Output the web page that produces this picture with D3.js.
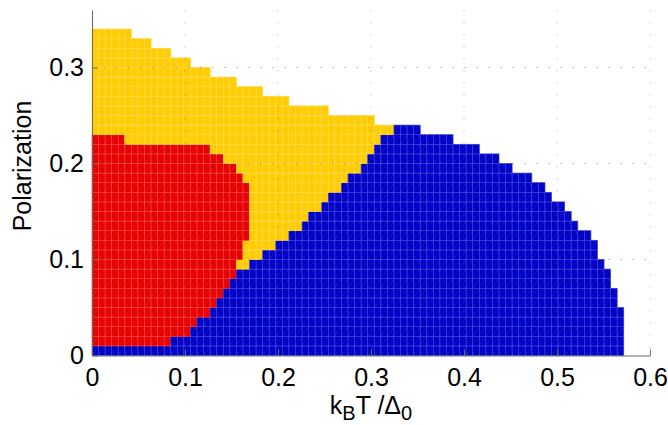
<!DOCTYPE html>
<html>
<head>
<meta charset="utf-8">
<script src="https://cdn.jsdelivr.net/npm/d3@7"></script>
<style>
  html, body { margin: 0; padding: 0; background: #fff; }
  svg { display: block; }
  text { font-family: "Liberation Sans", Arial, Helvetica, sans-serif; fill: #000; }
</style>
</head>
<body>
<svg id="chart" width="668" height="425"></svg>
<script>
// Grid steps of the phase map: temperature k_B T / Δ0 and polarization
const tStep = 0.6 / 85;
const pStep = 0.01;

// One entry per polarization row (P from row*pStep to (row+1)*pStep),
// given as counts of temperature cells from T = 0.
// red phase: [0, redEnd), yellow phase: [redEnd, blueStart), blue phase: [blueStart, phaseEnd)
const redEnd    = [0, 12, 15, 16, 18, 19, 20, 21, 22, 22, 23, 23, 24, 24, 24, 24, 24, 24,
                   23, 22, 20, 18, 5, 0, 0, 0, 0, 0, 0, 0, 0, 0, 0, 0];
const blueStart = [0, 12, 15, 16, 18, 19, 20, 21, 22, 24, 26, 28, 30, 32, 33, 35, 36, 38,
                   39, 41, 42, 43, 44, 46, 43, 36, 30, 26, 22, 18, 15, 12, 9, 6];
const phaseEnd  = [81, 81, 81, 81, 81, 80, 80, 79, 79, 78, 77, 77, 76, 74, 73, 72, 70, 69,
                   67, 64, 62, 59, 55, 50, 43, 36, 30, 26, 22, 18, 15, 12, 9, 6];

const xTicks = [0, 0.1, 0.2, 0.3, 0.4, 0.5, 0.6];
const yTicks = [0, 0.1, 0.2, 0.3];

const phaseFill   = { red: "#e60000", yellow: "#ffcc00", blue: "#0000c4" };
const phaseStroke = { red: "#f23a3a", yellow: "#ffd84a", blue: "#3b3be0" };

// Expand the row boundaries into individual grid cells
const cells = [];
phaseEnd.forEach((end, row) => {
  for (let col = 0; col < end; col++) {
    const phase = col < redEnd[row] ? "red" : (col < blueStart[row] ? "yellow" : "blue");
    cells.push({ row, col, phase });
  }
});

const svg = d3.select("#chart");
const x = d3.scaleLinear().domain([0, 0.6]).range([92, 650]);
const y = d3.scaleLinear().domain([0, 0.36]).range([355.5, 9.9]);

const cw = x(tStep) - x(0);
const ch = y(0) - y(pStep);

// Phase cells
const cellG = svg.append("g");
cellG.selectAll("rect")
  .data(cells)
  .join("rect")
  .attr("x", d => x(d.col * tStep))
  .attr("y", d => y((d.row + 1) * pStep))
  .attr("width", cw)
  .attr("height", ch)
  .attr("fill", d => phaseFill[d.phase])
  .attr("stroke", d => phaseStroke[d.phase])
  .attr("stroke-width", 0.7);

// Faint diagonal of every cell
cellG.selectAll("path")
  .data(cells)
  .join("path")
  .attr("d", d => {
    const x0 = x(d.col * tStep), y0 = y((d.row + 1) * pStep);
    return `M${x0},${y0 + ch}L${x0 + cw},${y0}`;
  })
  .attr("stroke", "rgba(255,255,255,0.28)")
  .attr("stroke-width", 0.6)
  .attr("stroke-dasharray", "1.2,1.6")
  .attr("fill", "none");

// Dotted grid over the map
const gridG = svg.append("g");
gridG.selectAll("line.gx")
  .data(xTicks.filter(v => v > 0))
  .join("line")
  .attr("class", "gx")
  .attr("x1", d => x(d)).attr("x2", d => x(d))
  .attr("y1", y.range()[1]).attr("y2", y.range()[0])
  .attr("stroke", "rgba(110,110,110,0.38)")
  .attr("stroke-width", 0.8)
  .attr("stroke-dasharray", "2,10");
gridG.selectAll("line.gy")
  .data(yTicks.filter(v => v > 0))
  .join("line")
  .attr("class", "gy")
  .attr("y1", d => y(d)).attr("y2", d => y(d))
  .attr("x1", x.range()[0]).attr("x2", x.range()[1])
  .attr("stroke", "rgba(110,110,110,0.45)")
  .attr("stroke-width", 0.8)
  .attr("stroke-dasharray", "2,10");

// Axes
const xAxis = svg.append("g")
  .attr("transform", `translate(0,${y(0)})`)
  .call(d3.axisBottom(x).tickValues(xTicks).tickFormat(d3.format("~g"))
    .tickSize(-6).tickSizeOuter(0).tickPadding(12.5));
const yAxis = svg.append("g")
  .attr("transform", `translate(${x(0)},0)`)
  .call(d3.axisLeft(y).tickValues(yTicks).tickFormat(d3.format("~g"))
    .tickSize(-6).tickSizeOuter(0).tickPadding(8));

[xAxis, yAxis].forEach(g => {
  g.select(".domain").attr("stroke", "#6a6a6a").attr("stroke-width", 1);
  g.selectAll(".tick line").attr("stroke", "#6a6a6a");
  g.selectAll(".tick text")
    .attr("fill", "#000")
    .style("font-size", "25px")
    .style("font-family", "'Liberation Sans', Arial, sans-serif");
});

// Axis titles
svg.append("text")
  .attr("transform", "translate(31,166) rotate(-90)")
  .attr("text-anchor", "middle")
  .style("font-size", "25px")
  .text("Polarization");

const xl = svg.append("text")
  .attr("x", x(0.3))
  .attr("y", 414)
  .attr("text-anchor", "middle")
  .style("font-size", "25px");
xl.append("tspan").text("k");
xl.append("tspan").attr("dy", 6).style("font-size", "20px").text("B");
xl.append("tspan").attr("dy", -6).text("T /Δ");
xl.append("tspan").attr("dy", 6).style("font-size", "20px").text("0");
</script>
</body>
</html>
